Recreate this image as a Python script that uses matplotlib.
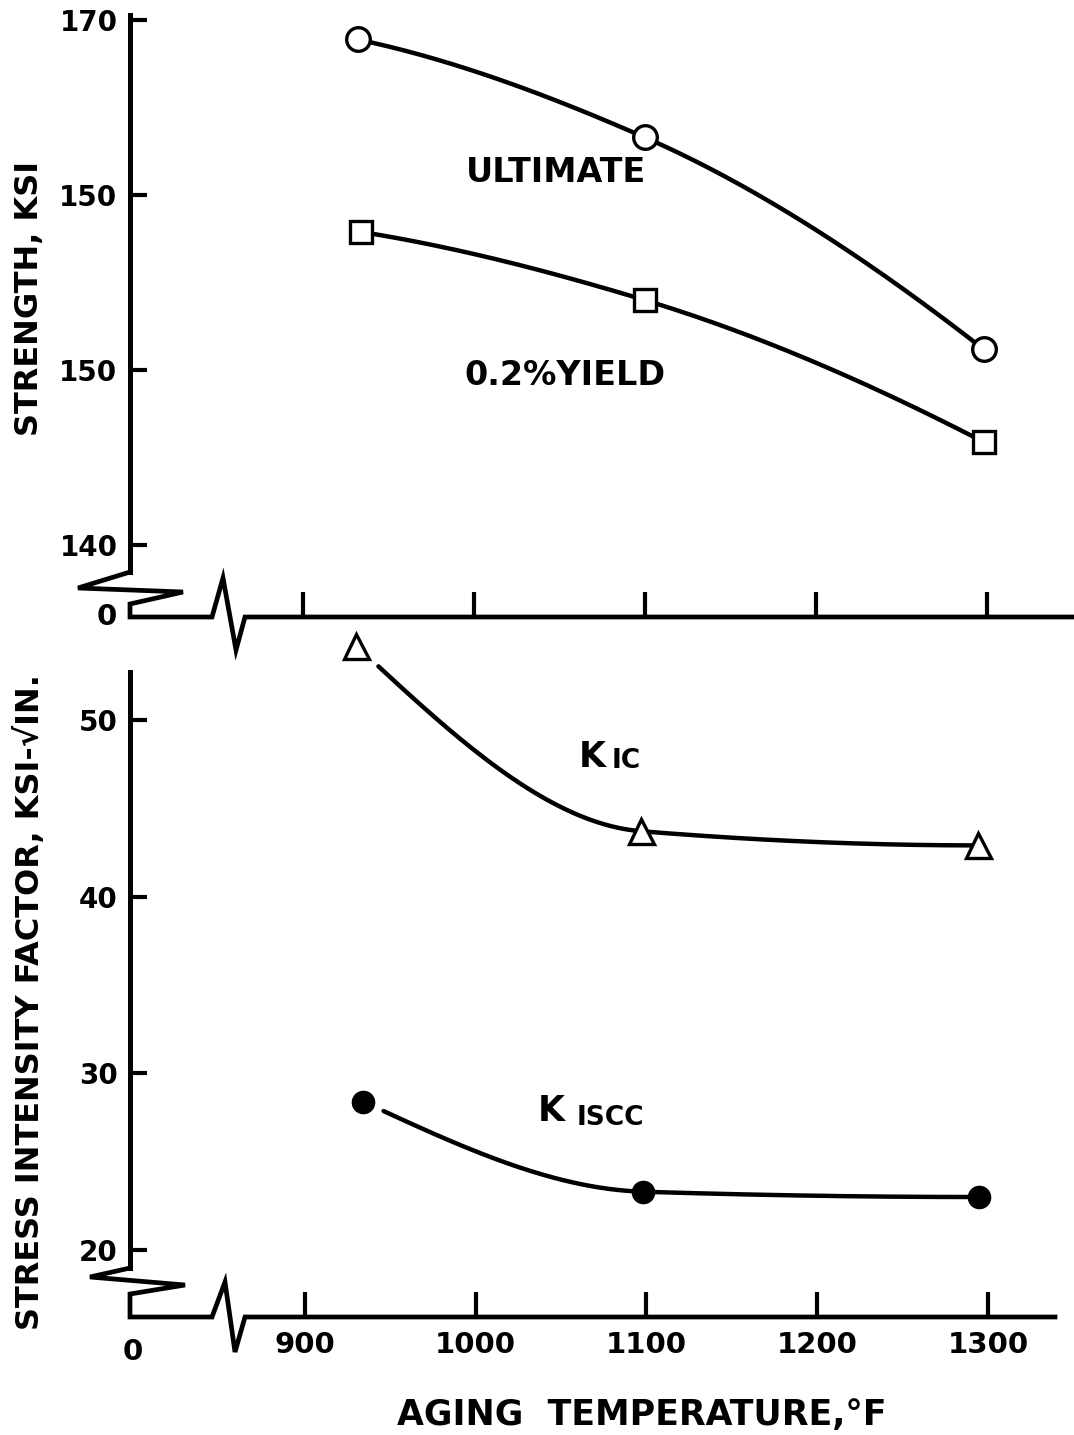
import matplotlib
matplotlib.use("Agg")
import matplotlib.pyplot as plt
from matplotlib.lines import Line2D
import numpy as np

W, H = 1074, 1435

# data (aging temperature in deg F)
ult_temp = [932, 1100, 1298]
ultimate = [168.9, 163.3, 151.2]
yld_temp = [934, 1100, 1298]
yield_02 = [157.9, 154.0, 145.9]
kic_temp = [930, 1097, 1294]
kic = [54.2, 43.7, 42.9]
kiscc_temp = [934, 1098, 1295]
kiscc = [28.4, 23.3, 23.0]

x_ticks = [900, 1000, 1100, 1200, 1300]
x_labels = ["900", "1000", "1100", "1200", "1300"]
top_yticks = [140, 150, 160, 170]
top_ylabels = ["140", "150", "150", "170"]   # printed this way on the original
bot_yticks = [20, 30, 40, 50]
bot_ylabels = ["20", "30", "40", "50"]


def pchip(x, y, start=0.0, n=200):
    # monotone cubic through the points, just for drawing the smooth curve
    x = np.asarray(x, float)
    y = np.asarray(y, float)
    h = np.diff(x)
    d = np.diff(y) / h
    m = np.zeros_like(x)
    for k in range(1, len(x) - 1):
        if d[k - 1] * d[k] > 0:
            w1 = 2 * h[k] + h[k - 1]
            w2 = h[k] + 2 * h[k - 1]
            m[k] = (w1 + w2) / (w1 / d[k - 1] + w2 / d[k])
    m[0] = ((2 * h[0] + h[1]) * d[0] - h[0] * d[1]) / (h[0] + h[1])
    if np.sign(m[0]) != np.sign(d[0]):
        m[0] = 0
    m[-1] = ((2 * h[-1] + h[-2]) * d[-1] - h[-1] * d[-2]) / (h[-1] + h[-2])
    if np.sign(m[-1]) != np.sign(d[-1]):
        m[-1] = 0
    xs = np.linspace(x[0] + start, x[-1], n)
    i = np.clip(np.searchsorted(x, xs) - 1, 0, len(x) - 2)
    t = (xs - x[i]) / h[i]
    ys = ((2 * t**3 - 3 * t**2 + 1) * y[i] + (t**3 - 2 * t**2 + t) * h[i] * m[i]
          + (-2 * t**3 + 3 * t**2) * y[i + 1] + (t**3 - t**2) * h[i] * m[i + 1])
    return xs, ys


def fpx(pts):
    # figure pixels -> figure fraction
    pts = np.asarray(pts, float)
    return pts[:, 0] / W, 1 - pts[:, 1] / H


plt.rcParams['font.family'] = ['DejaVu Sans']
plt.rcParams['font.weight'] = 'bold'

fig = plt.figure(figsize=(W / 100, H / 100), dpi=100)
fig.patch.set_facecolor('white')

ax1 = fig.add_axes([130 / W, 1 - 617 / H, (W - 130) / W, (617 - 15) / H])
ax2 = fig.add_axes([130 / W, 1 - 1317 / H, (W - 130) / W, (1317 - 630) / H])

ax1.set_xlim(798.8, 1350.9)
ax1.set_ylim(135.89, 170.3)
ax2.set_xlim(797.5, 1350.4)
ax2.set_ylim(16.21, 55.09)

lw = 3.2
for ax in (ax1, ax2):
    ax.patch.set_alpha(0)
    for s in ('top', 'right', 'bottom'):
        ax.spines[s].set_visible(False)
    ax.spines['left'].set_linewidth(3.6)
    ax.set_xticks(x_ticks)
    ax.tick_params(axis='x', direction='in', length=18, width=3, pad=10,
                   labelsize=21)
    ax.tick_params(axis='y', direction='in', length=12, width=3, pad=9,
                   labelsize=20)

ax1.spines['left'].set_bounds(138.46, 170.3)
ax2.spines['left'].set_bounds(18.98, 52.72)
ax1.set_xticklabels([])
ax2.set_xticklabels(x_labels)
ax1.set_yticks(top_yticks)
ax1.set_yticklabels(top_ylabels)
ax2.set_yticks(bot_yticks)
ax2.set_yticklabels(bot_ylabels)
for lab in ax1.get_yticklabels() + ax2.get_yticklabels() + ax2.get_xticklabels():
    lab.set_fontweight('bold')

# strength curves
xs, ys = pchip(ult_temp, ultimate)
ax1.plot(xs, ys, color='black', lw=lw, solid_capstyle='round')
ax1.plot(ult_temp, ultimate, 'o', ms=17, mfc='white', mec='black', mew=2.4,
         clip_on=False, zorder=5)
xs, ys = pchip(yld_temp, yield_02)
ax1.plot(xs, ys, color='black', lw=lw, solid_capstyle='round')
ax1.plot(yld_temp, yield_02, 's', ms=16, mfc='white', mec='black', mew=2.4,
         clip_on=False, zorder=5)

# stress intensity curves
xs, ys = pchip(kic_temp, kic, start=13)
ax2.plot(xs, ys, color='black', lw=lw, solid_capstyle='round')
ax2.plot(kic_temp, kic, '^', ms=18, mfc='white', mec='black', mew=2.4,
         clip_on=False, zorder=5)
xs, ys = pchip(kiscc_temp, kiscc, start=12)
ax2.plot(xs, ys, color='black', lw=lw, solid_capstyle='round')
ax2.plot(kiscc_temp, kiscc, 'o', ms=16, mfc='black', mec='black',
         clip_on=False, zorder=5)

# curve labels
ax1.text(1048, 161.3, "ULTIMATE", ha='center', va='center', fontsize=24,
         fontweight='bold')
ax1.text(1053, 149.7, "0.2%YIELD", ha='center', va='center', fontsize=24,
         fontweight='bold')
ax2.text(1068, 47.9, "K", ha='center', va='center', fontsize=25, fontweight='bold')
ax2.text(1088, 47.65, "IC", ha='center', va='center', fontsize=19, fontweight='bold')
ax2.text(1044, 27.85, "K", ha='center', va='center', fontsize=25, fontweight='bold')
ax2.text(1079, 27.5, "ISCC", ha='center', va='center', fontsize=19, fontweight='bold')

# broken axes drawn as in the original
top_break = [(130, 572), (78, 588), (183, 592), (130, 604), (130, 617),
             (212, 617), (223, 578), (236, 650), (245, 617), (1074, 617)]
bot_break = [(130, 1268), (90, 1277), (185, 1285), (130, 1294), (130, 1317),
             (212, 1317), (225, 1282), (235, 1352), (245, 1317), (1055, 1317)]
for pts in (top_break, bot_break):
    fx, fy = fpx(pts)
    fig.add_artist(Line2D(fx, fy, color='black', lw=3.4,
                          solid_joinstyle='miter', transform=fig.transFigure))

fig.text(107 / W, 1 - 617 / H, "0", ha='center', va='center', fontsize=21,
         fontweight='bold')
fig.text(133 / W, 1 - 1352 / H, "0", ha='center', va='center', fontsize=21,
         fontweight='bold')

# axis titles
fig.text(30 / W, 1 - 298 / H, "STRENGTH, KSI", rotation=90, ha='center',
         va='center', fontsize=23, fontweight='bold')
fig.text(30 / W, 1 - 1002 / H, "STRESS INTENSITY FACTOR, KSI-\u221aIN.",
         rotation=90, ha='center', va='center', fontsize=23, fontweight='bold')
fig.text(642 / W, 1 - 1415 / H, "AGING  TEMPERATURE,\u00b0F", ha='center',
         va='center', fontsize=25, fontweight='bold')

fig.savefig("out.png", dpi=100)
